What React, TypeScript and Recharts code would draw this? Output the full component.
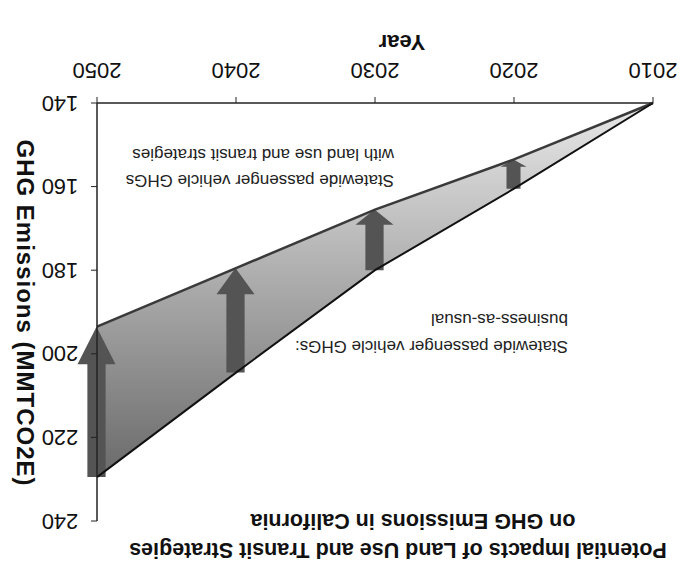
import React from 'react';
import { ComposedChart, XAxis, YAxis, Line, Area, Bar } from 'recharts';

const years = [2010, 2020, 2030, 2040, 2050];
const businessAsUsual = [140, 160.5, 180, 204.5, 229.5];
const withStrategies = [140, 153.5, 165.5, 179.5, 193.5];
const yTicks = [140, 160, 180, 200, 220, 240];
const xTicks = [2010, 2020, 2030, 2040, 2050];

const titleLines = [
  'Potential Impacts of Land Use and Transit Strategies',
  'on GHG Emissions in California',
];
const bauLabel = ['Statewide passenger vehicle GHGs:', 'business-as-usual'];
const stratLabel = ['Statewide passenger vehicle GHGs', 'with land use and transit strategies'];
const xTitle = 'Year';
const yTitle = 'GHG Emissions (MMTCO2E)';

const data = years.map((year, i) => ({
  year,
  bau: businessAsUsual[i],
  strat: withStrategies[i],
  band: [withStrategies[i], businessAsUsual[i]],
}));

const FONT = '"Liberation Sans", Arial, sans-serif';

const Arrow = (props: any) => {
  const { x, y, width, height } = props;
  if (height == null || Math.abs(height) < 3) return <g />;
  const cx = x + width / 2;
  const top = Math.min(y, y + height);
  const bot = Math.max(y, y + height);
  const h = bot - top;
  const headLen = h * 0.25;
  const headW = Math.min(38, Math.max(26, h * 0.7));
  const shaftW = Math.min(19, Math.max(14, headW * 0.48));
  const neck = bot - headLen;
  const pts = [
    [cx - shaftW / 2, top],
    [cx + shaftW / 2, top],
    [cx + shaftW / 2, neck],
    [cx + headW / 2, neck],
    [cx, bot],
    [cx - headW / 2, neck],
    [cx - shaftW / 2, neck],
  ];
  return <polygon points={pts.map((p) => p.join(',')).join(' ')} fill="#545454" />;
};

const XTick = (props: any) => {
  const { x, y, payload } = props;
  return (
    <text x={x} y={y + 25} textAnchor="middle" dominantBaseline="central" fontSize={22} fontFamily={FONT} fill="#111">
      {payload.value}
    </text>
  );
};

const YTick = (props: any) => {
  const { x, y, payload } = props;
  return (
    <text x={x + 29} y={y} textAnchor="middle" dominantBaseline="central" fontSize={22} fontFamily={FONT} fill="#111">
      {payload.value}
    </text>
  );
};

const abs = (u: number, v: number, extra: any = {}) => ({
  position: 'absolute' as const,
  left: u,
  top: v,
  transform: 'translate(-50%, -50%)',
  whiteSpace: 'nowrap' as const,
  fontFamily: FONT,
  color: '#111',
  lineHeight: 1,
  ...extra,
});

export default function App() {
  return (
    <div
      style={{
        position: 'absolute',
        left: 0,
        top: 0,
        width: 681,
        height: 565,
        background: '#fff',
        transform: 'rotate(180deg)',
        overflow: 'hidden',
      }}
    >
      <ComposedChart width={681} height={565} data={data} margin={{ top: 44, right: 0, bottom: 0, left: 28 }}>
        <defs>
          <linearGradient id="bandFill" x1="0" y1="0" x2="0" y2="1">
            <stop offset="0%" stopColor="#6a6a6a" />
            <stop offset="100%" stopColor="#e8e8e8" />
          </linearGradient>
        </defs>
        <XAxis
          type="number"
          dataKey="year"
          domain={[2010, 2050]}
          ticks={xTicks}
          interval={0}
          height={103}
          tickSize={6}
          axisLine={{ stroke: '#222', strokeWidth: 1.5 }}
          tickLine={{ stroke: '#222' }}
          tick={<XTick />}
        />
        <YAxis
          orientation="right"
          type="number"
          domain={[140, 240]}
          ticks={yTicks}
          interval={0}
          width={97}
          tickSize={6}
          axisLine={{ stroke: '#222', strokeWidth: 1.5 }}
          tickLine={{ stroke: '#222' }}
          tick={<YTick />}
        />
        <Area type="linear" dataKey="band" stroke="none" fill="url(#bandFill)" fillOpacity={1} isAnimationActive={false} activeDot={false} />
        <Line type="linear" dataKey="strat" stroke="#3a3a3a" strokeWidth={2.5} dot={false} activeDot={false} isAnimationActive={false} />
        <Line type="linear" dataKey="bau" stroke="#111" strokeWidth={2} dot={false} activeDot={false} isAnimationActive={false} />
        <Bar dataKey="band" barSize={40} shape={<Arrow />} isAnimationActive={false} />
      </ComposedChart>

      <div style={abs(283, 16, { fontSize: 21.5, fontWeight: 'bold' })}>{titleLines[0]}</div>
      <div style={abs(268, 45, { fontSize: 21.5, fontWeight: 'bold' })}>{titleLines[1]}</div>
      <div style={abs(279, 523, { fontSize: 22, fontWeight: 'bold' })}>{xTitle}</div>
      <div style={abs(656, 252, { fontSize: 24, fontWeight: 'bold', letterSpacing: 1, transform: 'translate(-50%, -50%) rotate(-90deg)' })}>{yTitle}</div>

      <div style={{ position: 'absolute', left: 113, top: 205, fontFamily: FONT, fontSize: 17, lineHeight: '27px', color: '#222', whiteSpace: 'nowrap' }}>
        <div>{bauLabel[0]}</div>
        <div>{bauLabel[1]}</div>
      </div>
      <div style={{ position: 'absolute', left: 287, top: 372, fontFamily: FONT, fontSize: 17, lineHeight: '26px', color: '#222', whiteSpace: 'nowrap' }}>
        <div>{stratLabel[0]}</div>
        <div>{stratLabel[1]}</div>
      </div>
    </div>
  );
}
